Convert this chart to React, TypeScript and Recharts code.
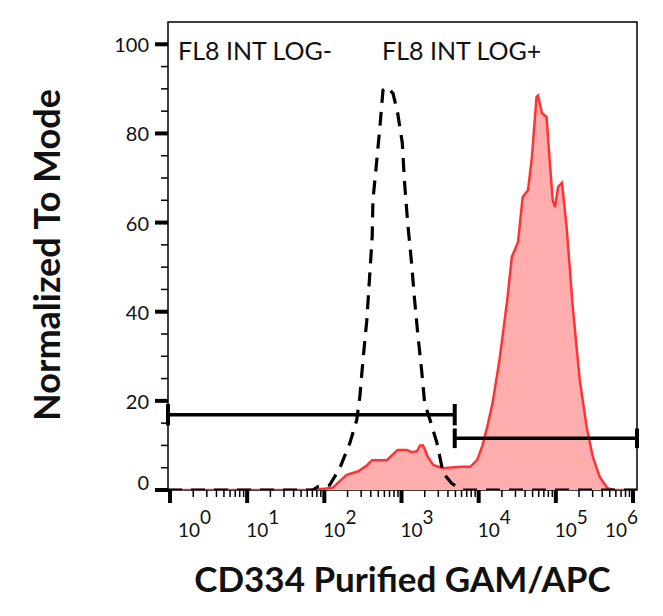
import { ComposedChart, Area, Line, XAxis, YAxis, ReferenceLine, ReferenceArea } from 'recharts';

// x positions are in decades (log10 of intensity)
const decades = [0, 1, 2, 3, 4, 5, 6];
const minorSteps = [2, 3, 4, 5, 6, 7, 8, 9];
const yTickValues = [0, 5, 10, 15, 20, 25, 30, 35, 40, 45, 50, 55, 60, 65, 70, 75, 80, 85, 90, 95, 100];
const yMajorStep = 20;

const stainedX = [
  -0.026, 1.8, 2.0, 2.11, 2.2, 2.29, 2.44, 2.55, 2.62, 2.81, 2.95, 3.07, 3.13, 3.2, 3.24, 3.28, 3.34,
  3.41, 3.54, 3.76, 3.89, 3.98, 4.05, 4.11, 4.18, 4.27, 4.37, 4.43, 4.51, 4.57, 4.64, 4.69, 4.75, 4.77,
  4.82, 4.88, 4.92, 4.96, 4.99, 5.03, 5.08, 5.14, 5.22, 5.31, 5.4, 5.48, 5.57, 5.67, 5.75, 6.052,
];
const stainedY = [
  0, 0, 0.3, 0.5, 2, 3.4, 4.2, 5.5, 6.7, 6.7, 9, 9, 8.5, 8.7, 10, 10, 7.5,
  5.6, 4.9, 5.2, 5.2, 6.7, 10, 14.1, 19.5, 29.2, 42.6, 52.3, 55.6, 65.7, 67.3, 74.7, 88.2, 88.5,
  84.6, 83.7, 74, 65, 63.5, 68, 68.9, 59, 41, 24.7, 14.1, 7.4, 2.9, 0.4, 0, 0,
];

const controlX = [
  -0.026, 1.85, 1.92, 2.0, 2.07, 2.2, 2.33, 2.42, 2.46, 2.5, 2.55, 2.59, 2.62, 2.63, 2.68, 2.72, 2.76,
  2.81, 2.89, 2.95, 3.01, 3.04, 3.08, 3.13, 3.17, 3.21, 3.26, 3.3, 3.37, 3.46, 3.54, 3.65, 3.72, 3.8, 6.052,
];
const controlY = [
  0, 0, 0.8, 1, 1.1, 4.9, 10.5, 15.7, 20.9, 29, 38, 48.7, 56.8, 65, 74, 81.4, 89.7,
  90.4, 89, 84.6, 77.9, 68.9, 60, 51, 42.6, 35.2, 27, 19.5, 15.7, 10.5, 3.8, 1.5, 0.7, 0, 0,
];

const xDomain = [-0.026, 6.052];
const yDomain = [0, 105];

// gate bars: [start, end] in decades, level, cap half height
const gateNames = ['FL8 INT LOG-', 'FL8 INT LOG+'];
const gateStart = [-0.026, 3.69];
const gateEnd = [3.69, 6.052];
const gateLevel = [16.9, 11.6];
const gateCap = [2.4, 2.2];

const stainedRows = stainedX.map((x, i) => ({ x, y: stainedY[i] }));
const controlRows = controlX.map((x, i) => ({ x, y: controlY[i] }));

const xTicks = [
  ...decades,
  ...decades.flatMap(d => minorSteps.map(k => d + Math.log10(k))),
].filter(v => v <= xDomain[1]).sort((a, b) => a - b);

const FONT = 'Lato, "Open Sans", sans-serif';

const XTick = (props: any) => {
  const { x, y, payload } = props;
  const v = payload.value;
  if (!Number.isInteger(v)) {
    return <line x1={x} x2={x} y1={y} y2={y + 7} stroke="#000" strokeWidth={1.5} />;
  }
  const dx = v === 0 ? 8 : v === 6 ? -28 : -1;
  return (
    <g>
      <line x1={x} x2={x} y1={y} y2={y + 13} stroke="#000" strokeWidth={4} />
      <text x={x + dx} y={y + 47} fontSize={19} fontFamily={FONT} fill="#111">
        10<tspan dy={-13}>{v}</tspan>
      </text>
    </g>
  );
};

const YTick = (props: any) => {
  const { x, y, payload } = props;
  const v = payload.value;
  if (v % yMajorStep !== 0) {
    return <line x1={x - 7} x2={x} y1={y} y2={y} stroke="#000" strokeWidth={1.5} />;
  }
  return (
    <g>
      <line x1={x - 13} x2={x} y1={y} y2={y} stroke="#000" strokeWidth={4} />
      <text x={x - 19} y={y + (v === 0 ? -8 : 0)} textAnchor="end" dominantBaseline="central"
        fontSize={20} fontFamily={FONT} fill="#111">
        {v}
      </text>
    </g>
  );
};

const XTitle = (props: any) => {
  const { viewBox } = props;
  return (
    <text x={viewBox.x + viewBox.width / 2} y={viewBox.y + 102} textAnchor="middle"
      fontSize={35} fontWeight="bold" fontFamily={FONT} fill="#111">
      CD334 Purified GAM/APC
    </text>
  );
};

const YTitle = (props: any) => {
  const { viewBox } = props;
  const cx = 60;
  const cy = viewBox.y + viewBox.height / 2 - 1;
  return (
    <text x={cx} y={cy} transform={`rotate(-90, ${cx}, ${cy})`} textAnchor="middle"
      fontSize={36} fontWeight="bold" fontFamily={FONT} fill="#111">
      Normalized To Mode
    </text>
  );
};

export default function App() {
  return (
    <div style={{ position: 'absolute', left: 0, top: 0, width: 663, height: 616, background: '#fff' }}>
      <ComposedChart width={663} height={616} margin={{ top: 22, right: 26, left: 0, bottom: 0 }}>
        <XAxis
          type="number"
          dataKey="x"
          domain={xDomain}
          ticks={xTicks}
          interval={0}
          allowDataOverflow
          height={126}
          tickSize={0}
          tickMargin={0}
          tickLine={false}
          axisLine={false}
          tick={<XTick />}
          label={<XTitle />}
        />
        <YAxis
          type="number"
          dataKey="y"
          domain={yDomain}
          ticks={yTickValues}
          interval={0}
          allowDataOverflow
          width={168}
          tickSize={0}
          tickMargin={0}
          tickLine={false}
          axisLine={false}
          tick={<YTick />}
          label={<YTitle />}
        />
        <ReferenceArea x1={xDomain[0]} x2={xDomain[1]} y1={yDomain[0]} y2={yDomain[1]}
          fill="none" stroke="#000" strokeWidth={1.5} fillOpacity={0} ifOverflow="visible" />
        <Area
          data={stainedRows}
          dataKey="y"
          type="linear"
          stroke="#ff3333"
          strokeWidth={2.5}
          fill="#ffadad"
          fillOpacity={1}
          dot={false}
          activeDot={false}
          isAnimationActive={false}
        />
        <Line
          data={controlRows}
          dataKey="y"
          type="linear"
          stroke="#000"
          strokeWidth={3.2}
          strokeDasharray="14 9"
          dot={false}
          activeDot={false}
          isAnimationActive={false}
        />
        {gateNames.map((name, i) => (
          <ReferenceLine key={name} ifOverflow="visible" stroke="#000" strokeWidth={3.5}
            segment={[{ x: gateStart[i], y: gateLevel[i] }, { x: gateEnd[i], y: gateLevel[i] }]} />
        ))}
        {gateNames.flatMap((name, i) => [gateStart[i], gateEnd[i]].map((gx, j) => (
          <ReferenceLine key={`${name}-${j}`} ifOverflow="visible" stroke="#000" strokeWidth={4}
            segment={[{ x: gx, y: gateLevel[i] - gateCap[i] }, { x: gx, y: gateLevel[i] + gateCap[i] }]} />
        )))}
        <text x={178} y={60} fontSize={25} fontFamily={FONT} fill="#111">{gateNames[0]}</text>
        <text x={382} y={60} fontSize={25} fontFamily={FONT} fill="#111">{gateNames[1]}</text>
      </ComposedChart>
    </div>
  );
}
